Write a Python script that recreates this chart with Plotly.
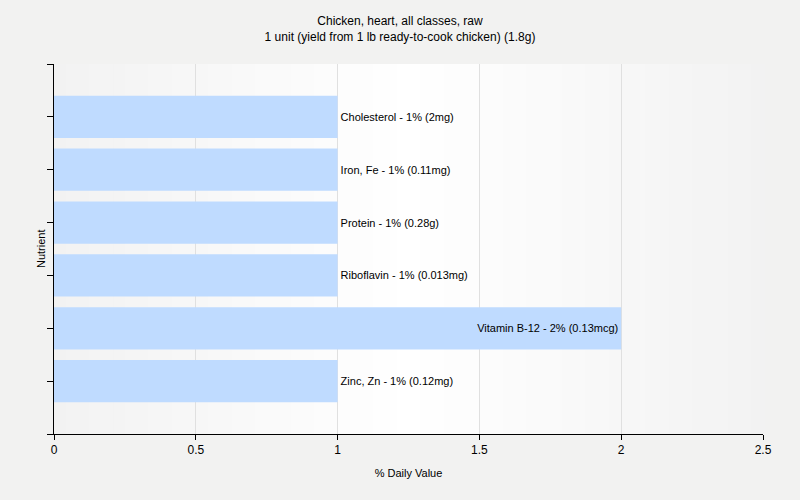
import plotly.graph_objects as go

nutrients = ["Cholesterol", "Iron, Fe", "Protein", "Riboflavin", "Vitamin B-12", "Zinc, Zn"]
values = [1, 1, 1, 1, 2, 1]
labels = ["Cholesterol - 1% (2mg)", "Iron, Fe - 1% (0.11mg)", "Protein - 1% (0.28g)",
          "Riboflavin - 1% (0.013mg)", "Vitamin B-12 - 2% (0.13mcg)", "Zinc, Zn - 1% (0.12mg)"]
x_ticks = [0, 0.5, 1, 1.5, 2, 2.5]

positions_y = list(range(len(nutrients)))
vmax = max(values)
textpos = ["inside" if v == vmax else "outside" for v in values]

y_lo, y_hi = -1, len(nutrients)

fig = go.Figure()

fig.add_trace(go.Bar(
    y=positions_y, x=values, orientation="h",
    marker=dict(color="#BFDBFF", line=dict(width=0)),
    width=0.8,
    text=labels, textposition=textpos, insidetextanchor="end",
    textfont=dict(family="Liberation Sans, Arial", size=11, color="#000000"),
    constraintext="none", cliponaxis=False,
    hovertext=nutrients, showlegend=False,
))

# horizontal background gradient in the plot area (stripes)
n_stripes = 60
for i in range(n_stripes):
    t = (i + 0.5) / n_stripes
    d = abs(t - 0.5) * 2  # 0 at centre, 1 at edges
    g = int(round(255 - (255 - 242) * d))
    fig.add_shape(type="rect", xref="x domain", yref="y domain",
                  x0=i / n_stripes, x1=(i + 1) / n_stripes + 0.002, y0=0, y1=1,
                  fillcolor=f"rgb({g},{g},{g})", line=dict(width=0), layer="below")

fig.add_annotation(text="Nutrient", xref="paper", yref="paper", x=0, y=0.5,
                   xanchor="center", yanchor="middle", xshift=-13, textangle=-90,
                   showarrow=False, font=dict(size=11))

fig.update_layout(
    width=800, height=500,
    margin=dict(l=54, r=37, t=64, b=66),
    paper_bgcolor="#F2F2F1",
    plot_bgcolor="#FFFFFF",
    font=dict(family="Liberation Sans, Arial", size=12, color="#000000"),
    title=dict(text="Chicken, heart, all classes, raw<br>1 unit (yield from 1 lb ready-to-cook chicken) (1.8g)",
               x=0.5, xanchor="center", y=0.95, yanchor="top",
               font=dict(size=12)),
    xaxis=dict(range=[0, 2.5], tickvals=x_ticks, ticktext=[str(t) for t in x_ticks],
               showgrid=True, gridcolor="#E0E0E0", zeroline=False, layer="above traces",
               showline=True, linecolor="#000000", linewidth=1,
               ticks="outside", ticklen=5, tickcolor="#000000",
               title=dict(text="% Daily Value", font=dict(size=11), standoff=12),
               tickfont=dict(size=12), automargin=False),
    yaxis=dict(range=[y_hi, y_lo], tickvals=list(range(y_lo, y_hi + 1)),
               showticklabels=False, showgrid=False, zeroline=False,
               showline=True, linecolor="#000000", linewidth=1,
               ticks="outside", ticklen=6, tickcolor="#000000",
               automargin=False),
)

fig.write_html("out.html", config={"displayModeBar": False},
               post_script="document.body.style.margin='0';document.body.style.background='#F2F2F1';")
